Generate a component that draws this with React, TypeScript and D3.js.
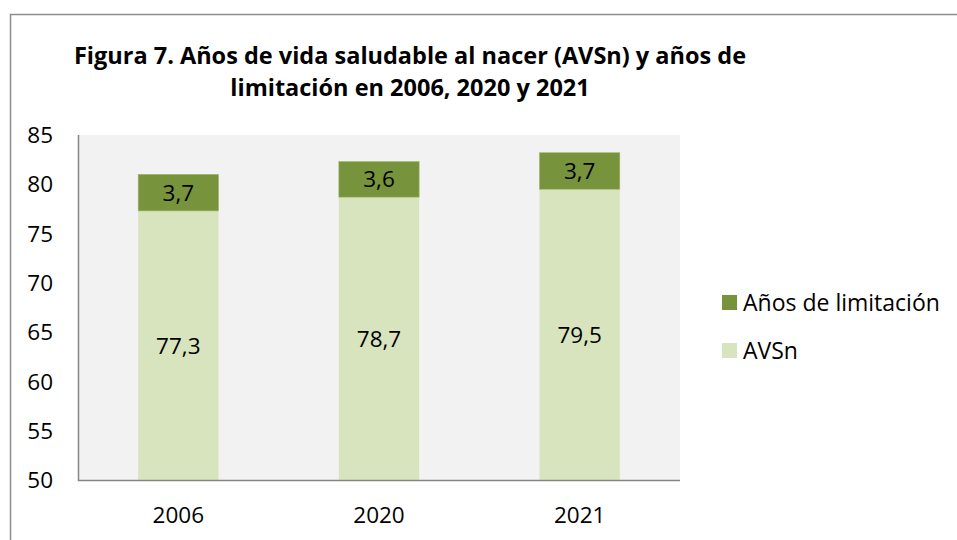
import React from "react";
import * as d3 from "d3";

const categories = ["2006", "2020", "2021"];
const avsn = [77.3, 78.7, 79.5];
const limitacion = [3.7, 3.6, 3.7];
const yTicks = [50, 55, 60, 65, 70, 75, 80, 85];
const seriesNames = ["Años de limitación", "AVSn"];
const titleLines = [
  "Figura 7. Años de vida saludable al nacer (AVSn) y años de",
  "limitación en 2006, 2020 y 2021",
];

const W = 957;
const H = 540;
const FONT = "'Open Sans', sans-serif";
const DARK = "#77933c";
const LIGHT = "#d7e4bd";
const FS = 22.5;

export default function App() {
  const plot = { left: 78, right: 680, top: 135, bottom: 480 };
  const x = d3
    .scaleBand<string>()
    .domain(categories)
    .range([plot.left, plot.right])
    .paddingInner(0.6)
    .paddingOuter(0.3);
  const y = d3.scaleLinear().domain([50, 85]).range([plot.bottom, plot.top]);
  const fmt = (v: number) => v.toFixed(1).replace(".", ",");

  return (
    <svg
      width={W}
      height={H}
      style={{ position: "absolute", left: 0, top: 0, background: "#fff" }}
      fontFamily={FONT}
    >
      <rect x={0} y={0} width={W} height={H} fill="#fff" />
      <path d={`M10.5,${H} V14.5 H${W}`} fill="none" stroke="#8c8c8c" strokeWidth={1.5} />
      {titleLines.map((t, i) => (
        <text
          key={i}
          x={410}
          y={64 + i * 32}
          textAnchor="middle"
          fontSize={23.5}
          fontWeight="bold"
          fill="#000"
        >
          {t}
        </text>
      ))}
      <rect
        x={plot.left}
        y={plot.top}
        width={plot.right - plot.left}
        height={plot.bottom - plot.top}
        fill="#f2f2f2"
      />
      {categories.map((c, i) => {
        const bx = x(c)!;
        const bw = x.bandwidth();
        const y0 = y(50);
        const y1 = y(avsn[i]);
        const y2 = y(avsn[i] + limitacion[i]);
        return (
          <g key={c}>
            <rect x={bx} y={y1} width={bw} height={y0 - y1} fill={LIGHT} />
            <rect x={bx} y={y2} width={bw} height={y1 - y2} fill={DARK} stroke="#9cb464" strokeWidth={0.6} />
            <text
              x={bx + bw / 2}
              y={(y0 + y1) / 2}
              dy="0.36em"
              textAnchor="middle"
              fontSize={FS}
              fill="#000"
            >
              {fmt(avsn[i])}
            </text>
            <text
              x={bx + bw / 2}
              y={(y1 + y2) / 2}
              dy="0.36em"
              textAnchor="middle"
              fontSize={FS}
              fill="#000"
            >
              {fmt(limitacion[i])}
            </text>
            <text
              x={bx + bw / 2}
              y={515}
              dy="0.36em"
              textAnchor="middle"
              fontSize={FS}
              fill="#000"
            >
              {c}
            </text>
          </g>
        );
      })}
      <path
        d={`M${plot.left + 0.5},${plot.top} V${plot.bottom + 0.5} H${plot.right}`}
        fill="none"
        stroke="#868686"
        strokeWidth={1.5}
      />
      {yTicks.map((t) => (
        <text key={t} x={53} y={y(t)} dy="0.36em" textAnchor="end" fontSize={FS} fill="#000">
          {t}
        </text>
      ))}
      {seriesNames.map((n, i) => (
        <g key={n}>
          <rect x={722} y={295 + i * 48} width={15} height={15} fill={i === 0 ? DARK : LIGHT} />
          <text x={743} y={302.5 + i * 48} dy="0.36em" fontSize={23} fill="#000">
            {n}
          </text>
        </g>
      ))}
    </svg>
  );
}
